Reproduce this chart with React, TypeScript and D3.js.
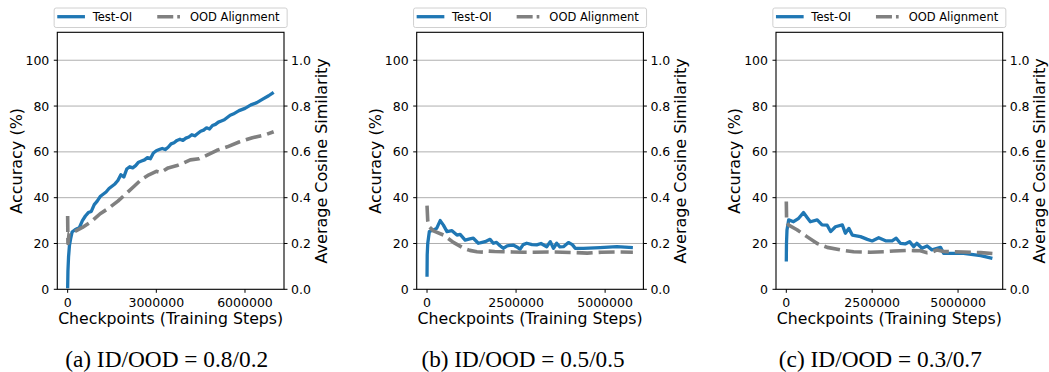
import React from "react";
import * as d3 from "d3";

// ---------- data ----------
const P1_ACC_STEPS = [0, 10000, 30000, 60000, 100000, 150000, 250000, 400000, 500000, 600000, 700000, 800000, 900000, 1000000, 1100000, 1200000, 1300000, 1400000, 1500000, 1600000, 1700000, 1800000, 1900000, 2000000, 2100000, 2200000, 2300000, 2400000, 2500000, 2600000, 2700000, 2800000, 2900000, 3000000, 3100000, 3200000, 3300000, 3400000, 3500000, 3600000, 3700000, 3800000, 3900000, 4000000, 4100000, 4200000, 4300000, 4400000, 4500000, 4600000, 4700000, 4800000, 4900000, 5000000, 5100000, 5200000, 5300000, 5400000, 5500000, 5600000, 5800000, 6000000, 6200000, 6400000, 6600000, 6800000, 6970000];
const P1_ACC = [0.5, 8, 14, 19, 22, 25, 26, 27, 30, 32, 33.5, 34, 37, 38.5, 40.5, 41.5, 42.5, 44, 45, 46, 47.5, 50, 49, 52.5, 53.5, 53, 54, 55.5, 56, 56.5, 57.5, 57, 59.5, 60.5, 61, 61.5, 61, 62, 63.5, 64, 65, 65.5, 65, 66, 66.5, 67.5, 67, 68, 69, 69.5, 70.5, 70, 71.5, 72, 73, 73.5, 74, 75, 76, 76.5, 78, 79, 80.5, 81.5, 83, 84.5, 86];
const P1_OOD_STEPS = [0, 10000, 50000, 200000, 500000, 800000, 1100000, 1400000, 1700000, 2000000, 2250000, 2500000, 2750000, 3000000, 3150000, 3400000, 3700000, 3900000, 4150000, 4450000, 4700000, 5050000, 5400000, 5800000, 6250000, 6700000, 6970000];
const P1_OOD = [0.32, 0.2, 0.245, 0.25, 0.27, 0.295, 0.33, 0.355, 0.385, 0.42, 0.45, 0.48, 0.5, 0.515, 0.51, 0.53, 0.54, 0.55, 0.565, 0.57, 0.585, 0.607, 0.622, 0.643, 0.662, 0.675, 0.688];

const P2_ACC_STEPS = [0, 5000, 20000, 65000, 180000, 270000, 370000, 460000, 560000, 700000, 840000, 930000, 1070000, 1200000, 1300000, 1440000, 1550000, 1630000, 1770000, 1860000, 1950000, 2050000, 2140000, 2250000, 2420000, 2520000, 2610000, 2700000, 2800000, 2950000, 3080000, 3200000, 3360000, 3460000, 3550000, 3640000, 3730000, 3830000, 3970000, 4080000, 4160000, 4390000, 4860000, 5330000, 5780000];
const P2_ACC = [5.5, 15, 20, 25.2, 25.9, 26.6, 30, 28, 25.2, 25.6, 23.7, 24, 21.5, 22, 22.3, 20.1, 20.5, 20.8, 21.8, 20.1, 20.5, 19, 17.9, 19, 19.3, 18.5, 17.5, 19.5, 20.1, 19.5, 19.4, 20, 18.6, 20.8, 17.9, 20.1, 18.5, 18.6, 20.4, 19.5, 17.9, 17.9, 18.2, 18.6, 18.2];
const P2_OOD_STEPS = [0, 20000, 50000, 180000, 460000, 740000, 1020000, 1200000, 1400000, 1600000, 1680000, 1900000, 2140000, 2400000, 2700000, 3000000, 3400000, 3800000, 4200000, 4500000, 4900000, 5300000, 5780000];
const P2_OOD = [0.365, 0.3, 0.275, 0.255, 0.237, 0.205, 0.18, 0.17, 0.164, 0.162, 0.167, 0.165, 0.164, 0.163, 0.162, 0.162, 0.163, 0.162, 0.16, 0.158, 0.162, 0.163, 0.162];

const P3_ACC_STEPS = [0, 5000, 20000, 70000, 210000, 360000, 500000, 600000, 700000, 900000, 1040000, 1190000, 1290000, 1430000, 1630000, 1720000, 1820000, 1920000, 2160000, 2360000, 2500000, 2690000, 2890000, 3080000, 3200000, 3320000, 3460000, 3590000, 3710000, 3800000, 3950000, 4100000, 4240000, 4490000, 4580000, 5160000, 5660000, 6000000];
const P3_ACC = [12.1, 20, 25.9, 30.3, 29.5, 31, 33.5, 31.5, 29.5, 30.3, 28.1, 28, 25.2, 27.3, 28.1, 24.5, 26.6, 23.7, 23, 21.8, 21.1, 22.5, 21.2, 21.1, 22.3, 20.1, 19.8, 20.8, 18.6, 20.1, 17.9, 18.9, 17.2, 18.3, 15.7, 15.7, 14.7, 13.5];
const P3_OOD_STEPS = [0, 10000, 70000, 310000, 600000, 900000, 1190000, 1570000, 1960000, 2450000, 2840000, 3130000, 3520000, 3710000, 3900000, 4100000, 4250000, 4390000, 4580000, 5160000, 5660000, 6000000];
const P3_OOD = [0.383, 0.29, 0.28, 0.26, 0.23, 0.2, 0.183, 0.172, 0.164, 0.162, 0.164, 0.167, 0.17, 0.169, 0.168, 0.16, 0.163, 0.172, 0.165, 0.163, 0.16, 0.156];

const LEFT_TICKS = [0, 20, 40, 60, 80, 100];
const RIGHT_TICKS = [0, 0.2, 0.4, 0.6, 0.8, 1.0];
const P1_X_TICKS = [0, 3000000, 6000000];
const P23_X_TICKS = [0, 2500000, 5000000];
const CAPTIONS = ["(a) ID/OOD = 0.8/0.2", "(b) ID/OOD = 0.5/0.5", "(c) ID/OOD = 0.3/0.7"];
const SERIES_LABELS = ["Test-OI", "OOD Alignment"];
const X_LABEL = "Checkpoints (Training Steps)";
const Y_LABEL = "Accuracy (%)";
const Y2_LABEL = "Average Cosine Similarity";

// ---------- layout ----------
const W = 1049;
const H = 372;
const TOP = 32.3;
const BOTTOM = 289.3;
const PW = 226.7;
const BLUE = "#1f77b4";
const GRAY = "#808080";
const FONT = "DejaVu Sans, sans-serif";

type PanelCfg = {
  left: number;
  xDomain: [number, number];
  xTicks: number[];
  accSteps: number[];
  acc: number[];
  oodSteps: number[];
  ood: number[];
  caption: string;
  capOffset: number;
};

const PANELS: PanelCfg[] = [
  { left: 57.3, xDomain: [-350000, 7320000], xTicks: P1_X_TICKS, accSteps: P1_ACC_STEPS, acc: P1_ACC, oodSteps: P1_OOD_STEPS, ood: P1_OOD, caption: CAPTIONS[0], capOffset: -4 },
  { left: 416.7, xDomain: [-290000, 6075000], xTicks: P23_X_TICKS, accSteps: P2_ACC_STEPS, acc: P2_ACC, oodSteps: P2_OOD_STEPS, ood: P2_OOD, caption: CAPTIONS[1], capOffset: -7 },
  { left: 776, xDomain: [-300000, 6300000], xTicks: P23_X_TICKS, accSteps: P3_ACC_STEPS, acc: P3_ACC, oodSteps: P3_OOD_STEPS, ood: P3_OOD, caption: CAPTIONS[2], capOffset: -9 },
];

function Panel({ cfg }: { cfg: PanelCfg }) {
  const L = cfg.left;
  const R = L + PW;
  const x = d3.scaleLinear().domain(cfg.xDomain).range([L, R]);
  const y = d3.scaleLinear().domain([0, 112.2]).range([BOTTOM, TOP]);
  const y2 = d3.scaleLinear().domain([0, 1.122]).range([BOTTOM, TOP]);
  const accLine = d3
    .line<number>()
    .x((_, i) => x(cfg.accSteps[i]))
    .y((d) => y(d));
  const oodLine = d3
    .line<number>()
    .x((_, i) => x(cfg.oodSteps[i]))
    .y((d) => y2(d));
  const cx = (L + R) / 2;
  const midY = (TOP + BOTTOM) / 2;
  return (
    <g>
      {/* grid */}
      {LEFT_TICKS.filter((t) => t > 0).map((t) => (
        <line key={"g" + t} x1={L} x2={R} y1={y(t)} y2={y(t)} stroke="#b0b0b0" strokeWidth={1} />
      ))}
      {/* lines */}
      <path d={accLine(cfg.acc) || ""} fill="none" stroke={BLUE} strokeWidth={3.3} strokeLinejoin="round" />
      <path d={oodLine(cfg.ood) || ""} fill="none" stroke={GRAY} strokeWidth={3.6} strokeDasharray="16,6" strokeLinejoin="round" />
      {/* frame */}
      <rect x={L} y={TOP} width={PW} height={BOTTOM - TOP} fill="none" stroke="#000" strokeWidth={1.1} />
      {/* left ticks */}
      {LEFT_TICKS.map((t) => (
        <g key={"l" + t}>
          <line x1={L - 3.5} x2={L} y1={y(t)} y2={y(t)} stroke="#000" strokeWidth={1} />
          <text x={L - 8} y={y(t)} dy="0.36em" textAnchor="end" fontSize={12.5} fontFamily={FONT}>
            {String(t)}
          </text>
        </g>
      ))}
      {/* right ticks */}
      {RIGHT_TICKS.map((t) => (
        <g key={"r" + t}>
          <line x1={R} x2={R + 3.5} y1={y2(t)} y2={y2(t)} stroke="#000" strokeWidth={1} />
          <text x={R + 7} y={y2(t)} dy="0.36em" textAnchor="start" fontSize={12.5} fontFamily={FONT}>
            {t.toFixed(1)}
          </text>
        </g>
      ))}
      {/* x ticks */}
      {cfg.xTicks.map((t) => (
        <g key={"x" + t}>
          <line x1={x(t)} x2={x(t)} y1={BOTTOM} y2={BOTTOM + 3.5} stroke="#000" strokeWidth={1} />
          <text x={x(t)} y={306.5} textAnchor="middle" fontSize={12.5} fontFamily={FONT}>
            {String(t)}
          </text>
        </g>
      ))}
      {/* axis labels */}
      <text x={cx} y={324.3} textAnchor="middle" fontSize={16} fontFamily={FONT} textLength={225} lengthAdjust="spacingAndGlyphs">
        {X_LABEL}
      </text>
      <text
        transform={`translate(${L - 35.8},${midY}) rotate(-90)`}
        textAnchor="middle"
        fontSize={16}
        fontFamily={FONT}
      >
        {Y_LABEL}
      </text>
      <text
        transform={`translate(${R + 42.7},${midY}) rotate(-90)`}
        textAnchor="middle"
        fontSize={16}
        fontFamily={FONT}
      >
        {Y2_LABEL}
      </text>
      {/* legend */}
      <rect x={cx - 116.5} y={8} width={233} height={19.5} rx={2} fill="#fff" stroke="#d0d0d0" strokeWidth={1} />
      <line x1={cx - 113.4} x2={cx - 85.7} y1={16.7} y2={16.7} stroke={BLUE} strokeWidth={3.3} />
      <text x={cx - 78} y={21} fontSize={11.5} fontFamily={FONT}>
        {SERIES_LABELS[0]}
      </text>
      <line x1={cx - 13.4} x2={cx + 9.3} y1={16.7} y2={16.7} stroke={GRAY} strokeWidth={3.6} strokeDasharray="16,4" />
      <text x={cx + 19.3} y={21} fontSize={11.5} fontFamily={FONT}>
        {SERIES_LABELS[1]}
      </text>
      {/* caption */}
      <text
        x={cx + cfg.capOffset}
        y={367}
        textAnchor="middle"
        fontSize={23}
        fontFamily="Liberation Serif, Times New Roman, serif"
        textLength={203}
        lengthAdjust="spacingAndGlyphs"
      >
        {cfg.caption}
      </text>
    </g>
  );
}

export default function App() {
  return (
    <svg
      width={W}
      height={H}
      viewBox={`0 0 ${W} ${H}`}
      style={{ position: "absolute", left: 0, top: 0, background: "#fff" }}
    >
      <rect x={0} y={0} width={W} height={H} fill="#fff" />
      {PANELS.map((p, i) => (
        <Panel key={i} cfg={p} />
      ))}
    </svg>
  );
}
